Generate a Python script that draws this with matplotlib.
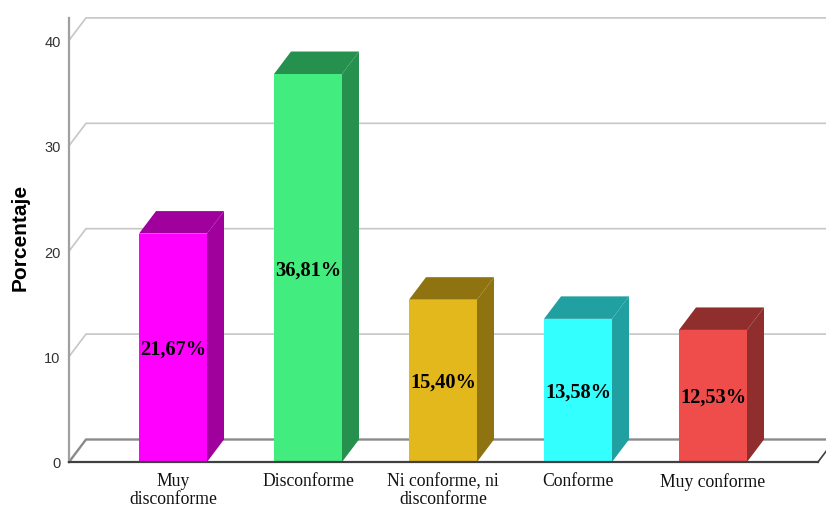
import matplotlib
matplotlib.use("Agg")
import matplotlib.pyplot as plt
from matplotlib.patches import Polygon
from matplotlib.transforms import ScaledTranslation

categories = ["Muy\ndisconforme", "Disconforme", "Ni conforme, ni\ndisconforme", "Conforme", "Muy conforme"]
values = [21.67, 36.81, 15.40, 13.58, 12.53]
front_colors = ["#ff00ff", "#42ec7e", "#e3b81d", "#33ffff", "#ef4c4c"]
side_colors = ["#a0009b", "#26904f", "#8f7310", "#20a0a0", "#902e2e"]
y_ticks = [0, 10, 20, 30, 40]

W, H = 826, 508
PX_X = 135.0   # pixels per category
PX_Y = 10.54   # pixels per percent
bar_w = 68 / PX_X
dx = 17 / PX_X  # depth offset of the fake 3d box
dy = 22.5 / PX_Y

fig = plt.figure(figsize=(W / 100, H / 100), dpi=100)
ax = fig.add_axes([69 / W, (H - 462) / H, (818 - 69) / W, (462 - 18) / H])
ax.set_xlim((69 - 173) / PX_X, (818 - 173) / PX_X)
ax.set_ylim(0, 444 / PX_Y)
x0, x1 = ax.get_xlim()

# back wall gridlines and their diagonals
for t in y_ticks:
    col = "#8a8a8a" if t == 0 else "#c8c8c8"
    lw = 1.7 if t == 0 else 1.25
    ax.plot([x0, x0 + dx, x1 + 0.1], [t, t + dy, t + dy], color=col, lw=lw,
            clip_on=False, zorder=1, solid_joinstyle="miter")
ax.plot([x1, x1 + dx], [0, dy], color="#404040", lw=1.2, clip_on=False, zorder=1)

# boxes: side and top faces first, then the front from ax.bar
for i, v in enumerate(values):
    l, r = i - bar_w / 2, i + bar_w / 2
    side = Polygon([(r, 0), (r + dx, dy), (r + dx, v + dy), (r, v)],
                   facecolor=side_colors[i], edgecolor="none", zorder=2)
    top = Polygon([(l, v), (l + dx, v + dy), (r + dx, v + dy), (r, v)],
                  facecolor=side_colors[i], edgecolor="none", zorder=2)
    ax.add_patch(side)
    ax.add_patch(top)
ax.bar(range(5), values, width=bar_w, color=front_colors, zorder=3)

for i, v in enumerate(values):
    ax.annotate(f"{v:.2f}%".replace(".", ","), (i, v / 2), xytext=(0, -1.5), textcoords="offset points",
                ha="center", va="center", family="Liberation Serif", weight="bold",
                fontsize=14.7, color="black", zorder=4)

for s in ["top", "right"]:
    ax.spines[s].set_visible(False)
ax.spines["left"].set_color("#a0a0a0")
ax.spines["left"].set_linewidth(1.6)
ax.spines["bottom"].set_color("#404040")
ax.spines["bottom"].set_linewidth(1.6)
ax.spines["bottom"].set_zorder(5)

ax.set_yticks(y_ticks)
ax.set_yticklabels([str(t) for t in y_ticks], family="Liberation Sans", fontsize=10.5, color="#333333")
ax.tick_params(axis="y", length=0, pad=6)
shift = ScaledTranslation(0, -1 / 100, fig.dpi_scale_trans)
for lab in ax.get_yticklabels():
    lab.set_transform(lab.get_transform() + shift)
ax.set_xticks(range(5))
ax.set_xticklabels(categories, family="Liberation Serif", fontsize=12.7, color="#111111", linespacing=1.1)
ax.tick_params(axis="x", length=0, pad=8)

fig.text(20 / W, 1 - 237 / H, "Porcentaje", rotation=90, ha="center", va="center",
         family="Liberation Sans", weight="bold", fontsize=15, color="black")

fig.savefig("out.png", dpi=100, facecolor="white")
